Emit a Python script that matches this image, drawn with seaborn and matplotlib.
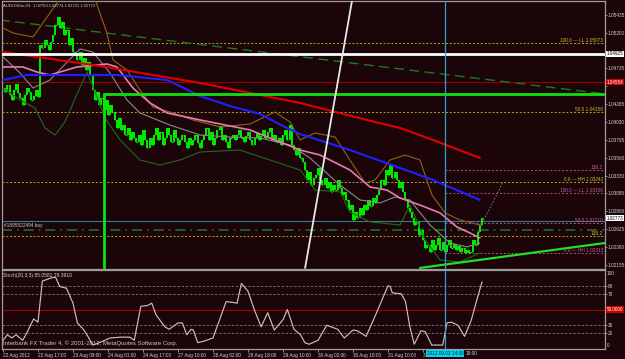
import matplotlib
matplotlib.use("Agg")
import matplotlib.pyplot as plt
import matplotlib.patches as mpatches
import matplotlib.transforms as mtrans
import numpy as np
import pandas as pd
import seaborn as sns

# ---------------- data ----------------
close = [
    1.04478, 1.04426, 1.04518, 1.04387, 1.04321, 1.04452, 1.04531, 1.04413, 1.04347, 1.04255,
    1.04387, 1.04478, 1.04426, 1.04321, 1.04373, 1.04452, 1.04360, 1.05042, 1.05003, 1.05108,
    1.05042, 1.04976, 1.05081, 1.05173, 1.05304, 1.05409, 1.05265, 1.05344, 1.05173, 1.05239,
    1.05042, 1.05134, 1.04950, 1.04911, 1.04845, 1.04950, 1.04780, 1.04872, 1.04714, 1.04819,
    1.04649, 1.04452, 1.04321, 1.04426, 1.04255, 1.04347, 1.04190, 1.04321, 1.04124, 1.04255,
    1.04164, 1.04059, 1.03954, 1.04085, 1.03928, 1.03993, 1.03862, 1.03954, 1.03797, 1.03901,
    1.03823, 1.03770, 1.03862, 1.03731, 1.03928, 1.03797, 1.03692, 1.03823, 1.03731, 1.03862,
    1.03954, 1.03797, 1.03901, 1.03731, 1.03823, 1.03954, 1.03862, 1.03770, 1.03928, 1.03823,
    1.03731, 1.03797, 1.03862, 1.03770, 1.03692, 1.03823, 1.03731, 1.03797, 1.03862, 1.03757,
    1.03692, 1.03797, 1.03862, 1.03954, 1.03797, 1.03901, 1.03731, 1.03823, 1.03928, 1.03980,
    1.03797, 1.03862, 1.03770, 1.03692, 1.03823, 1.03862, 1.03797, 1.03862, 1.03928, 1.03823,
    1.03770, 1.03849, 1.03901, 1.03797, 1.03731, 1.03823, 1.03888, 1.03797, 1.03849, 1.03928,
    1.03823, 1.03901, 1.03954, 1.03797, 1.03862, 1.03770, 1.03823, 1.03731, 1.03862, 1.03928,
    1.03797, 1.03993, 1.03731, 1.03665, 1.03600, 1.03692, 1.03561, 1.03508, 1.03403, 1.03272,
    1.03377, 1.03207, 1.03298, 1.03338, 1.03430, 1.03272, 1.03207, 1.03298, 1.03167, 1.03246,
    1.03115, 1.03207, 1.03141, 1.03272, 1.03167, 1.03076, 1.03115, 1.03010, 1.02879, 1.02944,
    1.02748, 1.02853, 1.02774, 1.02905, 1.02813, 1.02944, 1.02879, 1.03010, 1.02931, 1.03036,
    1.02971, 1.03076, 1.03141, 1.03272, 1.03207, 1.03403, 1.03338, 1.03469, 1.03298, 1.03377,
    1.03272, 1.03167, 1.03246, 1.03115, 1.03010, 1.02905, 1.02853, 1.02774, 1.02682, 1.02722,
    1.02551, 1.02617, 1.02486, 1.02381, 1.02420, 1.02328, 1.02486, 1.02354, 1.02420, 1.02512,
    1.02354, 1.02459, 1.02328, 1.02420, 1.02486, 1.02381, 1.02433, 1.02354, 1.02407, 1.02328,
    1.02381, 1.02315, 1.02354, 1.02315, 1.02328, 1.02486, 1.02420, 1.02590, 1.02682, 1.02773,
]

time_tick_pos = [0, 16, 32, 48, 64, 80, 96, 112, 128, 144, 160, 176, 192, 208]
time_tick_labels = ["22 Aug 2012", "22 Aug 17:00", "23 Aug 09:00", "24 Aug 01:00",
                    "24 Aug 17:00", "27 Aug 10:00", "28 Aug 02:00", "28 Aug 18:00",
                    "29 Aug 10:00", "30 Aug 02:00", "30 Aug 18:00", "31 Aug 10:00",
                    "3", ""]
time_tail_label = "19:00"       # visible tail of the label hidden by the cursor box

price_ticks = [1.05435, 1.05200, 1.04965, 1.04735, 1.04500, 1.04265, 1.04030, 1.03795,
               1.03560, 1.03330, 1.03095, 1.02860, 1.02625, 1.02390, 1.02155]
hidden_price_ticks = [1.04965, 1.04500]   # covered by the white / red price boxes

red_idx = [0, 44.3, 90.1, 135.8, 166.4, 181.5, 196.6, 218]
red_val = [1.04950, 1.04767, 1.04544, 1.04282, 1.04059, 1.03954, 1.03797, 1.03561]

blue_idx = [0, 11, 52.1, 75, 90.1, 103.8, 117.5, 129.8, 135.8, 158.6, 181.5, 196.6, 218]
blue_val = [1.04583, 1.04649, 1.04649, 1.04583, 1.04373, 1.04242, 1.04137, 1.03954,
            1.03875, 1.03665, 1.03430, 1.03272, 1.03010]

pink_idx = [0, 9.1, 15.5, 21.5, 33.8, 47.5, 52.1, 59.4, 67.2, 75, 90.1, 112.9, 135.8,
            144.9, 158.6, 167.8, 175.5, 181.5, 190.6, 199.8, 207.5, 213.5, 218]
pink_val = [1.04754, 1.04754, 1.04688, 1.04649, 1.04754, 1.04793, 1.04754, 1.04478,
            1.04282, 1.04151, 1.04059, 1.03928, 1.03665, 1.03600, 1.03403, 1.03180,
            1.03141, 1.03036, 1.02944, 1.02840, 1.02656, 1.02577, 1.02512]

mid_idx = [0, 7.8, 13.7, 21.5, 29.3, 35.2, 41.1, 48.9, 56.7, 62.6, 76.3, 90.1, 103.8,
           117.5, 131.2, 140.3, 154, 163.2, 172.3, 179.2, 186, 195.2, 204.3, 212.1, 218]
mid_val = [1.04885, 1.04675, 1.04478, 1.04583, 1.04819, 1.04990, 1.04950, 1.04675,
           1.04321, 1.04151, 1.03993, 1.03862, 1.03836, 1.03823, 1.03731, 1.03561,
           1.03207, 1.03010, 1.02971, 1.03049, 1.03010, 1.02682, 1.02446, 1.02394, 1.02446]

upper_idx = [0, 4.6, 13.7, 19.2, 24.7, 27.4, 39.8, 43, 47.5, 50.3, 56.7, 62.6, 68.6,
             77.7, 86.9, 99.2, 112.9, 124.3, 131.2, 135.8, 142.6, 151.8, 158.6, 165.5,
             170.1, 176.9, 183.8, 190.6, 196.1, 202.1, 208.9, 218]
upper_val = [1.05265, 1.05199, 1.05147, 1.05370, 1.05593, 1.05894, 1.05894, 1.05566,
             1.05199, 1.04845, 1.04714, 1.04452, 1.04229, 1.04151, 1.04059, 1.03967,
             1.04006, 1.04164, 1.04033, 1.03797, 1.03888, 1.03836, 1.03534, 1.03233,
             1.03272, 1.03534, 1.03600, 1.03534, 1.03076, 1.02840, 1.02748, 1.02682]

lower_idx = [0, 7.8, 14.6, 19.2, 23.8, 28.3, 34.3, 38.4, 42.1, 46.6, 53.5, 62.6, 71.8,
             80.9, 90.1, 108.3, 122.1, 135.8, 142.6, 154.1, 158.6, 167.8, 181.5, 186.1,
             192.9, 199.8, 208.9, 218]
lower_val = [1.04478, 1.04321, 1.04216, 1.03954, 1.03862, 1.04033, 1.04426, 1.04688,
             1.04426, 1.04085, 1.03797, 1.03534, 1.03469, 1.03534, 1.03639, 1.03665,
             1.03534, 1.03403, 1.03141, 1.03115, 1.02853, 1.02722, 1.02682, 1.02944,
             1.02486, 1.02223, 1.02197, 1.02315]

stoch_idx = [0, 2, 4, 6, 9, 11, 14, 16, 18, 22, 24, 26, 29, 32, 34, 37, 39, 41, 44, 49,
             54, 58, 60, 63, 66, 68, 70, 74, 76, 80, 82, 84, 86, 87, 89, 92, 96, 99, 102, 105,
             107, 109, 112, 115, 118, 121, 124, 128, 130, 133, 136, 138, 140, 144, 148, 153,
             156, 160, 162, 166, 170, 172, 176, 177, 178, 182, 184, 186, 188, 191, 193, 196,
             201, 203, 205, 208, 211, 214, 217, 219]
stoch_val = [11, 18, 14, 18, 11, 21, 38, 34, 86, 90, 91, 79, 77, 58, 33, 24, 15, 5, 8, 14,
             15, 15, 11, 54, 55, 58, 43, 28, 25, 33, 33, 18, 25, 24, 8, 10, 14, 37, 60, 59,
             58, 83, 73, 49, 28, 46, 24, 37, 50, 25, 18, 8, 6, 11, 30, 25, 14, 24, 23, 16,
             41, 54, 80, 79, 71, 70, 60, 28, 6, 23, 22, 5, 5, 33, 34, 30, 16, 36, 66, 85]

# objects drawn on the chart (time index, price)
white_level = 1.04925
red_level = 1.04554
order_level = 1.02735
sl_level = 1.02617
box_left_idx = 46.2
box_top = 1.04399
cursor_idx = 202
fib_yellow = [(1.05073, "100.0 --- LL 1.05073"), (1.04158, "50.0 1.04158"),
              (1.03242, "0.0 --- HH 1.03242"), (1.02543, "138.2")]
fib_pink = [(1.03409, "138.2"), (1.03106, "100.0 --- LL 1.03106"),
            (1.02710, "50.0 1.02710"), (1.02313, "0.0 --- HH 1.02313")]
white_trend = ([159.6, 138.1], [1.05632, 1.02118])
green_trend = ([190.6, 275.2], [1.02119, 1.02446])
dash_trend = ([-1.4, 275.2], [1.05370, 1.04400])
proj_trend = ([217, 228.6], [1.02590, 1.03246])
stoch_levels = [80, 70, 30, 20]

# ---------------- style ----------------
BG = "#1c0509"
FRAME = "#9c9c9c"
TXT = "#d2d2d2"
sns.set_theme(style="dark")
plt.rcParams['font.family'] = ['Liberation Sans', 'DejaVu Sans']
plt.rcParams['axes.facecolor'] = BG
plt.rcParams['figure.facecolor'] = BG

W, H = 625, 359
fig = plt.figure(figsize=(W / 100, H / 100), dpi=100)
ax = fig.add_axes([2 / W, 1 - 269 / H, 603 / W, 268 / H])
ax2 = fig.add_axes([2 / W, 1 - 349 / H, 603 / W, 79 / H])

XMIN, XMAX = -0.457, 275.2
for a in (ax, ax2):
    a.set_facecolor(BG)
    a.set_xlim(XMIN, XMAX)
    a.grid(False)
    for s in a.spines.values():
        s.set_color(FRAME)
        s.set_linewidth(0.9)
ax.set_ylim(1.02105, 1.05619)
ax2.set_ylim(0, 100)

# ---------------- horizontal levels ----------------
ax.axhline(white_level, color="white", lw=2.0, zorder=4)
ax.axhline(red_level, color="#9a0000", lw=0.8, zorder=1)
ax.axhline(order_level, color="#2f7f90", lw=0.8, zorder=1)
ax.axhline(sl_level, color="#1e6e1e", lw=1.2, ls=(0, (6, 3, 1, 3)), zorder=1)
for val, lab in fib_yellow:
    ax.axhline(val, color="#b4aa28", lw=0.7, ls=(0, (2, 2)), zorder=1)
    ax.text(274.3, val, lab, color="#c8c030", fontsize=3.4, ha="right", va="bottom", zorder=6)
for val, lab in fib_pink:
    ax.plot([cursor_idx, XMAX], [val, val], color="#b0508a", lw=0.7, ls=(0, (2, 2)), zorder=1)
    ax.text(274.3, val, lab, color="#c060a0", fontsize=3.4, ha="right", va="bottom", zorder=6)

# green rectangle (only top and left edges visible)
ax.add_patch(mpatches.Rectangle((box_left_idx, 1.0190), 400, box_top - 1.0190,
                                fill=False, edgecolor="#10e010", lw=2.0, zorder=4))

# trendlines
ax.plot(*dash_trend, color="#1f7a1f", lw=1.0, ls=(0, (7, 4)), zorder=1)
ax.plot(*green_trend, color="#20e020", lw=1.6, zorder=4)
ax.plot(*white_trend, color="#e8e8e8", lw=1.3, zorder=4)
ax.plot(*proj_trend, color="#8a8a8a", lw=0.6, ls=(0, (2, 2)), zorder=3)

# ---------------- price bars ----------------
idx = np.arange(len(close))
opens = [close[0]] + close[:-1]
lo = np.minimum(opens, close)
hi = np.maximum(opens, close)
ax.vlines(idx, lo, hi, color="#00ee00", lw=1.4, zorder=2)
ax.hlines(close, idx, idx + 0.5, color="#00ee00", lw=0.9, zorder=2)

# ---------------- indicator lines ----------------
line_specs = [
    ("upper", upper_idx, upper_val, "#8c6414", 0.8),
    ("lower", lower_idx, lower_val, "#1f6a1f", 0.8),
    ("mid", mid_idx, mid_val, "#8a8a8a", 0.8),
    ("pink", pink_idx, pink_val, "#e87ab4", 1.2),
    ("blue", blue_idx, blue_val, "#2020ff", 1.5),
    ("red", red_idx, red_val, "#e00000", 1.5),
]
frames = []
for name, xi, yv, col, lw in line_specs:
    frames.append(pd.DataFrame({"idx": xi, "price": yv, "series": name}))
lines_df = pd.concat(frames, ignore_index=True)
for name, xi, yv, col, lw in line_specs:
    sns.lineplot(data=lines_df[lines_df.series == name], x="idx", y="price",
                 color=col, lw=lw, ax=ax, estimator=None, sort=False, legend=False, zorder=3)

# cursor line
ax.axvline(cursor_idx, color="#2fa0cc", lw=0.9, zorder=5)
ax2.axvline(cursor_idx, color="#2fa0cc", lw=0.9, zorder=5)

# ---------------- stochastic ----------------
for lv in stoch_levels:
    ax2.axhline(lv, color="#777777", lw=0.6, ls=(0, (3, 2)), zorder=1)
ax2.axhline(50, color="#a00000", lw=0.8, zorder=1)
stoch_df = pd.DataFrame({"idx": stoch_idx, "val": stoch_val})
sns.lineplot(data=stoch_df, x="idx", y="val", color="#ff2020", lw=0.8, ls=(0, (1, 2)),
             ax=ax2, estimator=None, sort=False, legend=False, zorder=2)
sns.lineplot(data=stoch_df, x="idx", y="val", color="#c4c4c4", lw=0.8,
             ax=ax2, estimator=None, sort=False, legend=False, zorder=3)

# ---------------- axes ticks / labels ----------------
ax.set_xlabel(""); ax.set_ylabel("")
ax2.set_xlabel(""); ax2.set_ylabel("")
ax.yaxis.tick_right()
ax.set_yticks(price_ticks)
ax.set_yticklabels(["" if v in hidden_price_ticks else f"{v:.5f}" for v in price_ticks])
ax.tick_params(axis="y", labelsize=3.4, labelcolor=TXT, color=FRAME, length=1.5, width=0.6,
               pad=0.5, right=True, left=False)
ax.set_xticks([])

ax2.yaxis.tick_right()
ax2.set_yticks(stoch_levels)
ax2.set_yticklabels([str(v) for v in stoch_levels])
ax2.tick_params(axis="y", labelsize=3.4, labelcolor=TXT, color=FRAME, length=1.5, width=0.6,
                pad=0.5, right=True, left=False)
ax2.set_xticks(time_tick_pos)
ax2.set_xticklabels(time_tick_labels, ha="left")
ax2.tick_params(axis="x", labelsize=3.4, labelcolor=TXT, color=FRAME, length=2, width=0.6,
                pad=1, bottom=True)

tr_main = mtrans.blended_transform_factory(ax.transAxes, ax.transData)
tr_st = mtrans.blended_transform_factory(ax2.transAxes, ax2.transData)
ax2.text(1.003, 99, "100", transform=tr_st, fontsize=3.4, color=TXT, ha="left", va="top")
ax2.text(1.003, 1, "0", transform=tr_st, fontsize=3.4, color=TXT, ha="left", va="bottom")


def price_box(axis, tr, y, text, fc, tc):
    axis.text(1.003, y, text, transform=tr, fontsize=3.3, color=tc, ha="left", va="center",
              clip_on=False, zorder=10,
              bbox=dict(boxstyle="square,pad=0.15", fc=fc, ec=fc, lw=0))


price_box(ax, tr_main, white_level, "1.04925", "white", "black")
price_box(ax, tr_main, red_level, "1.04554", "#d00000", "white")
price_box(ax, tr_main, close[-1], f"{close[-1]:.5f}", "white", "black")
price_box(ax2, tr_st, 50, "50.0000", "#d00000", "white")

tr_time = mtrans.blended_transform_factory(ax2.transData, ax2.transAxes)
ax2.text(cursor_idx, -0.02, "2012.09.03 14:00", transform=tr_time, fontsize=3.4, color="#001830",
         ha="center", va="top", clip_on=False, zorder=10,
         bbox=dict(boxstyle="square,pad=0.2", fc="#00d8f0", ec="#00d8f0", lw=0))
ax2.text(cursor_idx + 9.5, -0.02, time_tail_label, transform=tr_time, fontsize=3.4, color=TXT,
         ha="left", va="top", clip_on=False, zorder=9)

# ---------------- free texts ----------------
fig.text(3 / W, 1 - 6 / H, "AUDUSDm,H1  1.02753 1.02774 1.02721 1.02773", fontsize=3.0,
         color=TXT, ha="left", va="center")
ax.text(0.5, 1.02669, "#1895522494 buy", fontsize=3.4, color="#c8c8c8", ha="left", va="center",
        zorder=6)
fig.text(3 / W, 1 - 276 / H, "Stoch(20,3,3) 85.0581 79.3910", fontsize=3.6, color=TXT,
         ha="left", va="center")
fig.text(3 / W, 1 - 343 / H, "Interbank FX Trader 4, \u00a9 2001-2012, MetaQuotes Software Corp.",
         fontsize=4.3, color="#c8c8c8", ha="left", va="center")

fig.savefig("out.png", dpi=100, facecolor=BG)
